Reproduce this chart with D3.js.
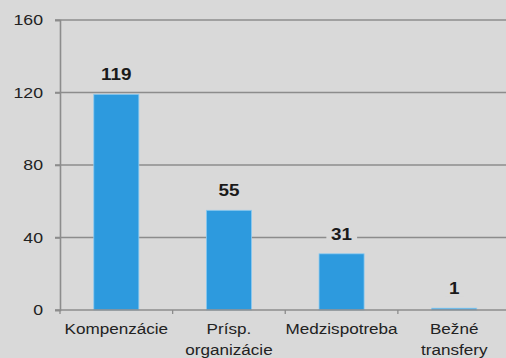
<!DOCTYPE html>
<html>
<head>
<meta charset="utf-8">
<script src="https://cdn.jsdelivr.net/npm/d3@7"></script>
<style>
  html, body { margin: 0; padding: 0; background: #d9d9d9; }
  svg { display: block; }
  text { font-family: "Liberation Sans", Arial, sans-serif; }
</style>
</head>
<body>
<svg id="chart" width="506" height="358"></svg>
<script>
// Výdavky podľa kategórií
const categories = ["Kompenzácie", "Prísp.\norganizácie", "Medzispotreba", "Bežné\ntransfery"];
const values = [119, 55, 31, 1];
const yTicks = [0, 40, 80, 120, 160];

const W = 506, H = 358;
const plotLeft = 60, plotRight = 510.5, plotTop = 20, plotBottom = 310;
const gridColor = "#8c8c8c";
const stretch = 1.18; // horizontally widened lettering

const svg = d3.select("#chart");
svg.append("rect").attr("width", W).attr("height", H).attr("fill", "#d9d9d9");

const x = d3.scaleBand().domain(categories).range([plotLeft, plotRight])
  .paddingInner(0.6).paddingOuter(0.3);
const y = d3.scaleLinear().domain([0, 160]).range([plotBottom, plotTop]);

// horizontal gridlines
svg.append("g").selectAll("line").data(yTicks.slice(1)).join("line")
  .attr("x1", plotLeft - 5).attr("x2", W)
  .attr("y1", d => y(d)).attr("y2", d => y(d))
  .attr("stroke", gridColor).attr("stroke-width", 1.6);

// y axis
const yAxis = svg.append("g").attr("transform", `translate(${plotLeft},0)`)
  .call(d3.axisLeft(y).tickValues(yTicks).tickSize(5).tickPadding(12));
yAxis.select(".domain").attr("stroke", gridColor).attr("stroke-width", 1.6);
yAxis.selectAll(".tick line").attr("stroke", gridColor).attr("stroke-width", 1.6);
yAxis.selectAll(".tick text")
  .attr("font-size", 15).attr("fill", "#222")
  .style("font-family", "'Liberation Sans', Arial, sans-serif")
  .each(function () {
    // widen each label while keeping its right edge in place
    const t = d3.select(this);
    const xr = +t.attr("x");
    t.attr("transform", `translate(${xr},0) scale(${stretch},1) translate(${-xr},0)`);
  });

// bars
svg.append("g").selectAll("rect").data(values).join("rect")
  .attr("x", (d, i) => x(categories[i]))
  .attr("width", x.bandwidth())
  .attr("y", d => y(d))
  .attr("height", d => y(0) - y(d))
  .attr("fill", "#2d9ade")
  .attr("stroke", "#8ccaf0").attr("stroke-width", 0.8);

// x axis baseline with ticks at category boundaries
svg.append("line").attr("x1", plotLeft - 5).attr("x2", W)
  .attr("y1", plotBottom).attr("y2", plotBottom)
  .attr("stroke", gridColor).attr("stroke-width", 1.6);
svg.append("g").selectAll("line").data(categories).join("line")
  .attr("x1", d => x(d) - x.bandwidth() * 0.75)
  .attr("x2", d => x(d) - x.bandwidth() * 0.75)
  .attr("y1", plotBottom).attr("y2", plotBottom + 4)
  .attr("stroke", gridColor).attr("stroke-width", 1.3);

// category labels
const catG = svg.append("g");
categories.forEach(c => {
  const cx = x(c) + x.bandwidth() / 2;
  const g = catG.append("g").attr("transform", `translate(${cx},0) scale(${stretch},1)`);
  const t = g.append("text").attr("text-anchor", "middle")
    .attr("font-size", 14.5).attr("fill", "#222");
  c.split("\n").forEach((line, k) => {
    t.append("tspan").attr("x", 0).attr("y", 334.5 + k * 20.5).text(line);
  });
});

// value labels with background behind them
const lab = svg.append("g");
values.forEach((v, i) => {
  const cx = x(categories[i]) + x.bandwidth() / 2;
  const ly = y(v) - 14;
  const g = lab.append("g").attr("transform", `translate(${cx},0) scale(${stretch},1)`);
  const t = g.append("text").attr("x", 0).attr("y", ly)
    .attr("text-anchor", "middle").attr("font-size", 16)
    .attr("font-weight", "bold").attr("fill", "#1a1a1a").text(v);
  const b = t.node().getBBox();
  g.insert("rect", "text").attr("x", b.x - 4).attr("y", b.y + 1)
    .attr("width", b.width + 8).attr("height", b.height - 2)
    .attr("fill", "#d9d9d9");
});
</script>
</body>
</html>
